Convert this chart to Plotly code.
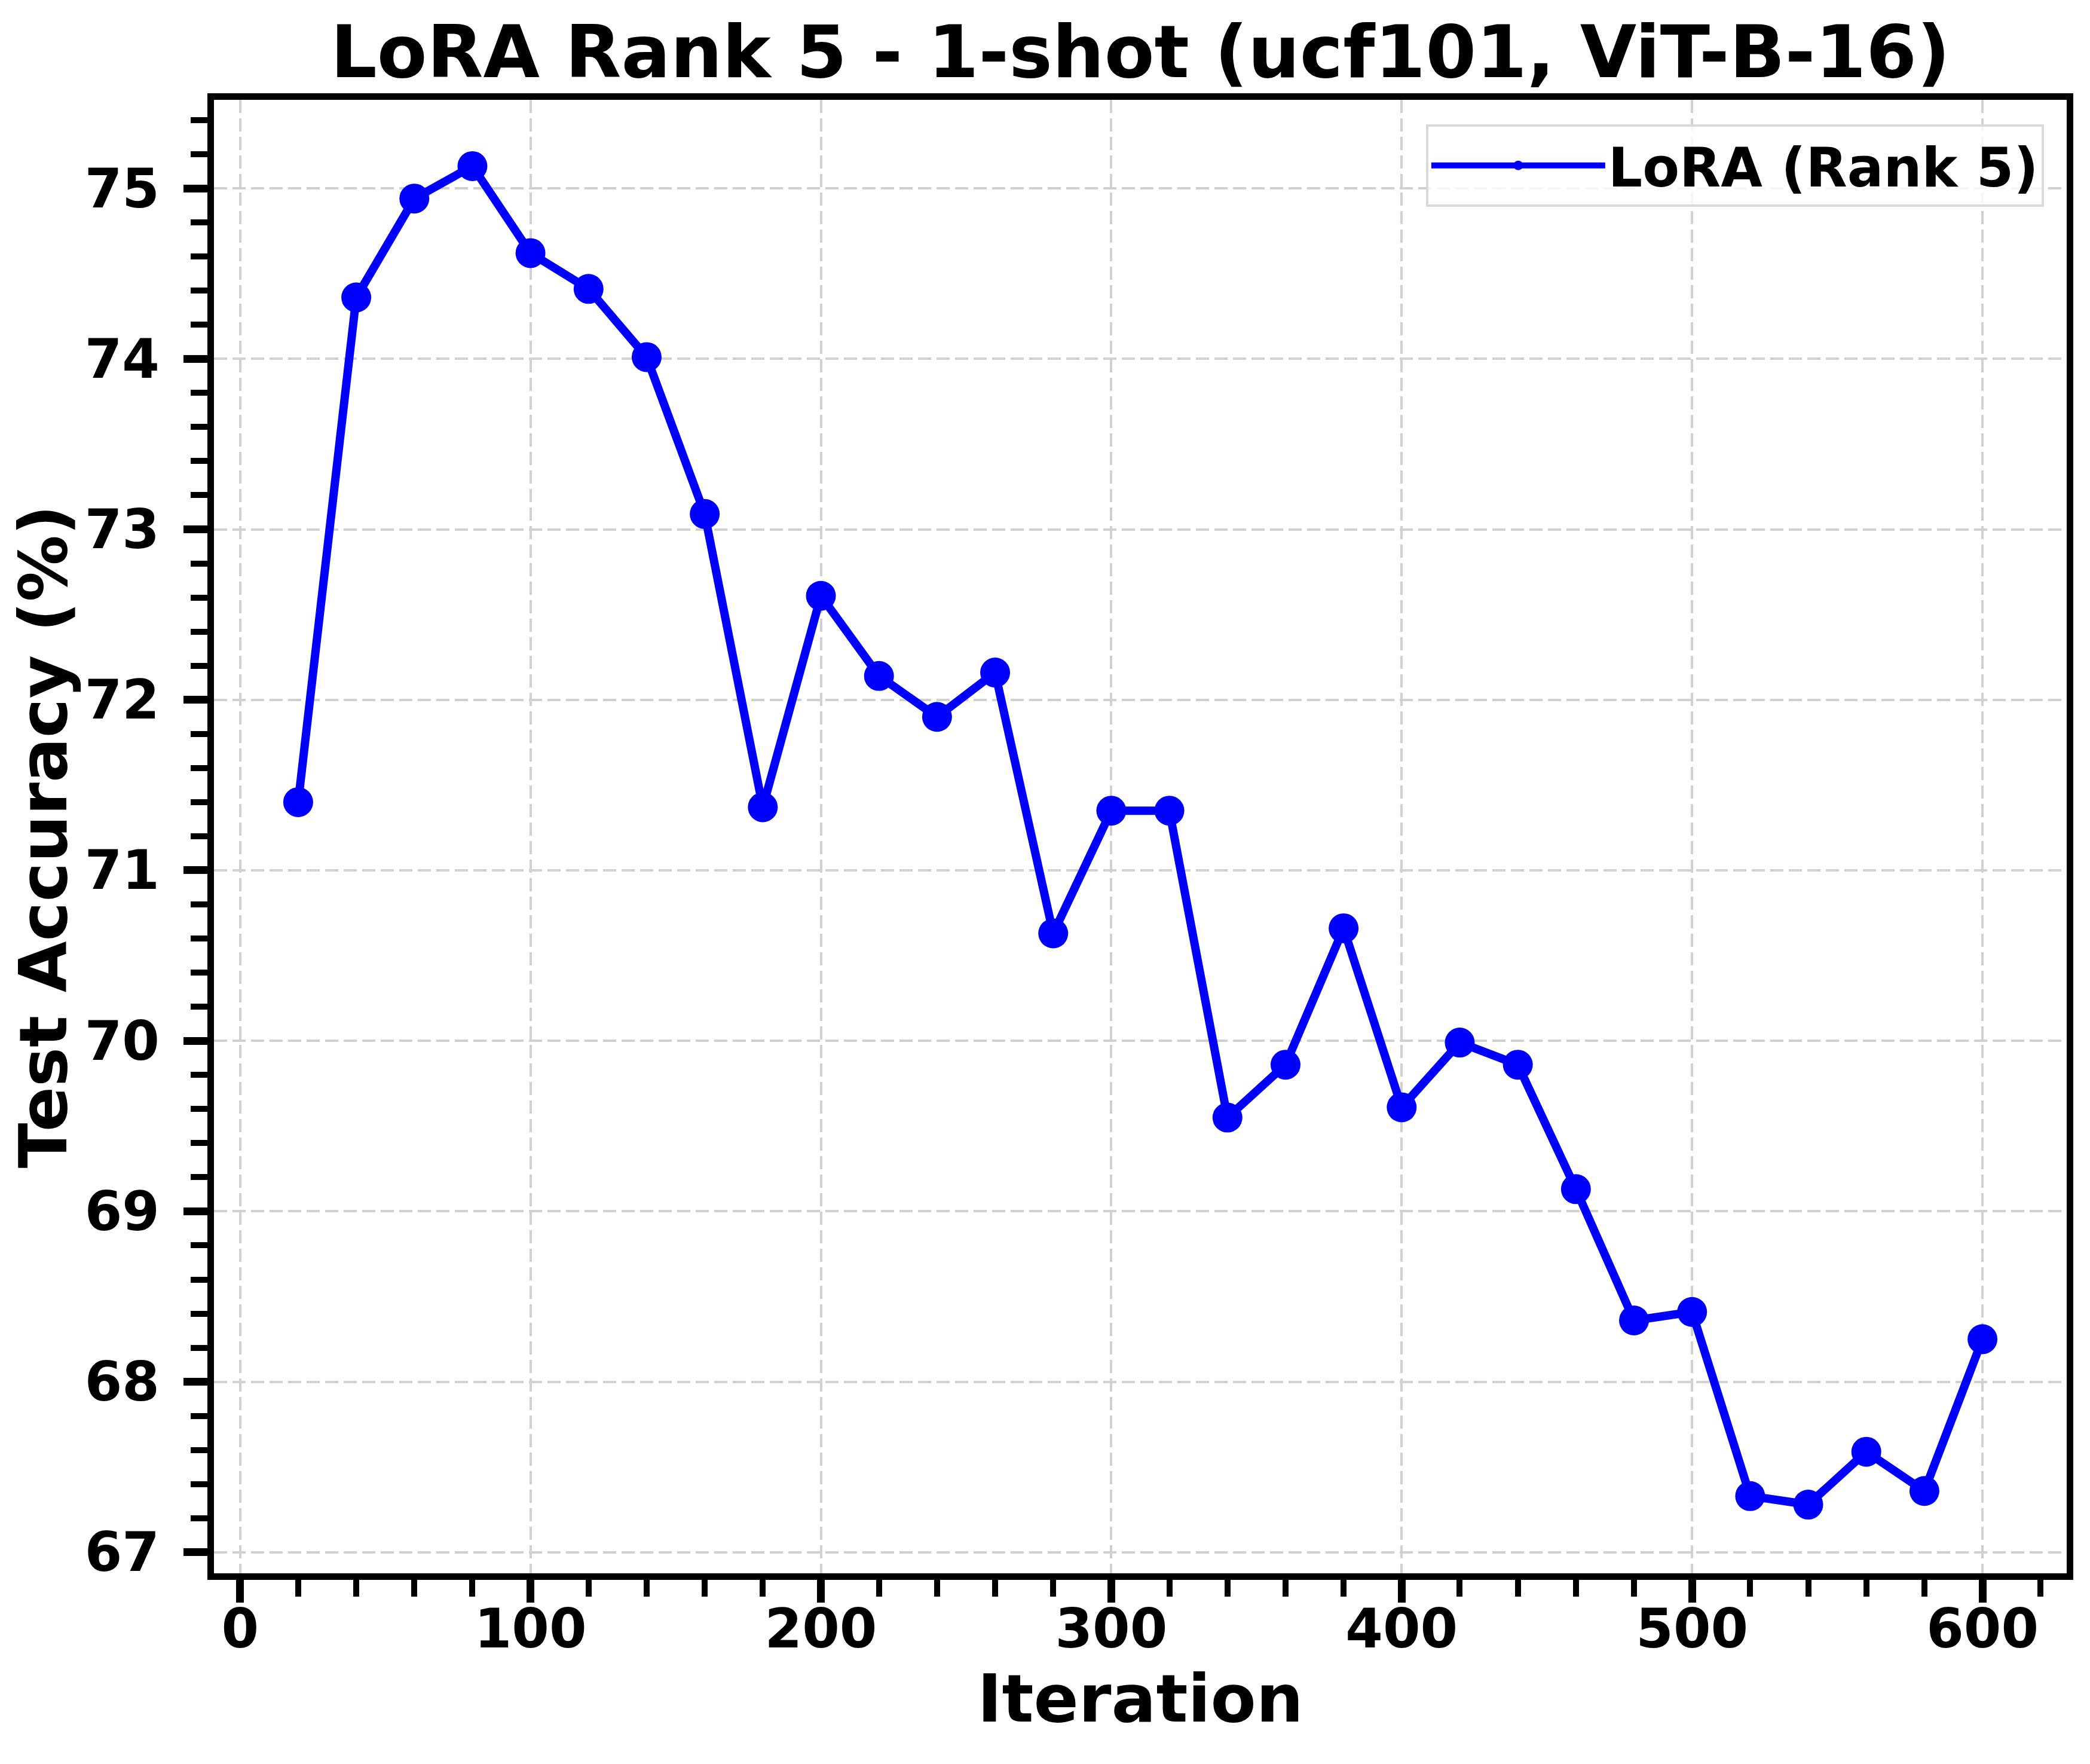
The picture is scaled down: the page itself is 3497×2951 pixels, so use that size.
import plotly.graph_objects as go

iterations = [20, 40, 60, 80, 100, 120, 140, 160, 180, 200,
              220, 240, 260, 280, 300, 320, 340, 360, 380, 400,
              420, 440, 460, 480, 500, 520, 540, 560, 580, 600]
accuracy = [71.40, 74.36, 74.94, 75.13, 74.62, 74.41, 74.01, 73.09, 71.37, 72.61,
            72.14, 71.90, 72.16, 70.63, 71.35, 71.35, 69.55, 69.86, 70.66, 69.61,
            69.99, 69.86, 69.13, 68.36, 68.41, 67.33, 67.28, 67.59, 67.36, 68.25]
series_name = "LoRA (Rank 5)"
title_text = "LoRA Rank 5 - 1-shot (ucf101, ViT-B-16)"
x_label = "Iteration"
y_label = "Test Accuracy (%)"

FONT = "DejaVu Sans"
W, H = 3497, 2951
# page body has an 8px margin; compensate so the plot lands where the reference has it
L, R, T, B = 350, 47, 159, 327

fig = go.Figure()
fig.add_trace(go.Scatter(
    x=iterations, y=accuracy, mode="lines+markers", name=series_name,
    line=dict(color="#0000ff", width=14),
    marker=dict(color="#0000ff", size=50),
))

axis_common = dict(
    showline=True, linecolor="black", linewidth=11, mirror=True,
    ticks="outside", tickcolor="black",
    showgrid=True, gridcolor="#d0d0d0", gridwidth=4, griddash="22px,9px",
    zeroline=False,
    tickfont=dict(family=FONT, size=90, color="black", weight="bold"),
)

fig.update_layout(
    width=W, height=H,
    margin=dict(l=L, r=R, t=T, b=B, autoexpand=False),
    paper_bgcolor="white", plot_bgcolor="white",
    font=dict(family=FONT, color="black", weight="bold"),
    title=dict(text=title_text, x=0.5, xref="paper", xanchor="center",
               y=1 - 78 / H, yref="container", yanchor="middle",
               font=dict(family=FONT, size=122, color="black", weight="bold")),
    showlegend=True,
    legend=dict(x=0.9877, xanchor="right", y=0.9835, yanchor="top",
                itemwidth=291,
                bgcolor="rgba(255,255,255,0.8)", bordercolor="#d9d9d9", borderwidth=4,
                font=dict(family=FONT, size=90, color="black", weight="bold")),
)

fig.update_xaxes(
    **axis_common,
    range=[-9, 629], tick0=0, dtick=100, ticklen=38, tickwidth=13,
    minor=dict(tick0=0, dtick=20, ticks="outside", ticklen=28, tickwidth=10, tickcolor="black", showgrid=False),
    title=dict(text=x_label, font=dict(family=FONT, size=111, color="black", weight="bold"), standoff=10),
    ticklabelstandoff=-33,
)
fig.update_yaxes(
    **axis_common,
    range=[66.877, 75.519], tick0=67, dtick=1, ticklen=40, tickwidth=13,
    minor=dict(tick0=67, dtick=0.2, ticks="outside", ticklen=28, tickwidth=10, tickcolor="black", showgrid=False),
    title=dict(text=y_label, font=dict(family=FONT, size=111, color="black", weight="bold"), standoff=0),
    ticklabelstandoff=22,
)

fig.write_html("out.html")
